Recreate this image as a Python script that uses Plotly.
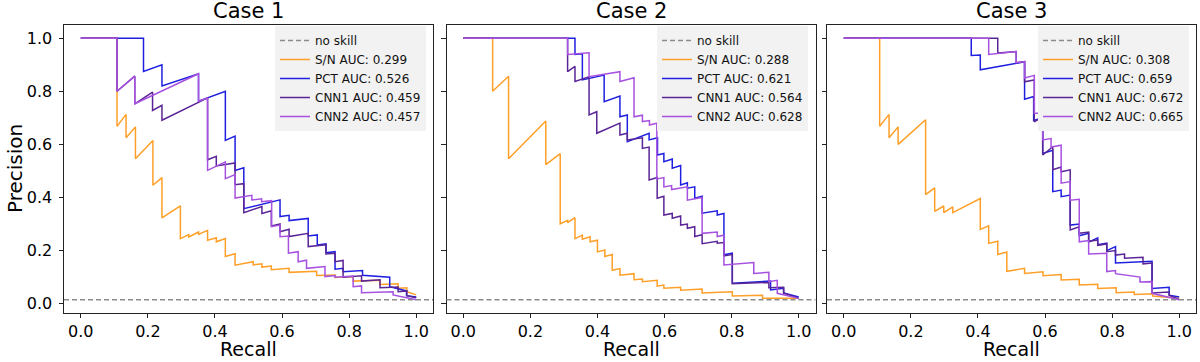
import plotly.graph_objects as go

FONT = "DejaVu Sans"

cases = ["Case 1", "Case 2", "Case 3"]
models = ["S/N", "PCT", "CNN1", "CNN2"]
colors = ["#ff9f28", "#1f1fe0", "#5a2596", "#a651e0"]
no_skill = 0.015

auc_case1 = [0.299, 0.526, 0.459, 0.457]
auc_case2 = [0.288, 0.621, 0.564, 0.628]
auc_case3 = [0.308, 0.659, 0.672, 0.665]

x_ticks = [0.0, 0.2, 0.4, 0.6, 0.8, 1.0]
y_ticks = [0.0, 0.2, 0.4, 0.6, 0.8, 1.0]

# each curve: recall at every step, precision before the drop (top) and after it (bottom)
# ---- Case 1
c1_sn_recall = [0, 0.108, 0.135, 0.163, 0.215, 0.242, 0.297, 0.322, 0.351, 0.378, 0.404, 0.431, 0.460, 0.514, 0.540, 0.568, 0.621, 0.703, 0.758, 0.812, 0.892, 0.946, 0.972, 1.0]
c1_sn_top = [1, 1, 0.713, 0.666, 0.615, 0.475, 0.368, 0.260, 0.270, 0.276, 0.248, 0.245, 0.188, 0.158, 0.150, 0.142, 0.133, 0.122, 0.108, 0.102, 0.088, 0.075, 0.060, 0.033]
c1_sn_bottom = [1, 0.668, 0.625, 0.546, 0.446, 0.323, 0.245, 0.251, 0.261, 0.239, 0.233, 0.178, 0.145, 0.146, 0.138, 0.128, 0.118, 0.106, 0.099, 0.085, 0.072, 0.058, 0.045, 0.033]

c1_pct_recall = [0, 0.187, 0.242, 0.351, 0.378, 0.431, 0.460, 0.486, 0.594, 0.621, 0.678, 0.705, 0.731, 0.758, 0.782, 0.840, 0.921, 0.971, 1.0]
c1_pct_top = [1, 1, 0.900, 0.866, 0.775, 0.800, 0.631, 0.512, 0.391, 0.333, 0.321, 0.259, 0.225, 0.196, 0.133, 0.125, 0.100, 0.048, 0.025]
c1_pct_bottom = [1, 0.875, 0.820, 0.763, 0.775, 0.615, 0.502, 0.358, 0.328, 0.313, 0.255, 0.221, 0.192, 0.130, 0.120, 0.107, 0.064, 0.030, 0.025]

c1_cnn1_recall = [0, 0.108, 0.161, 0.214, 0.242, 0.378, 0.404, 0.460, 0.486, 0.540, 0.568, 0.594, 0.621, 0.678, 0.731, 0.758, 0.782, 0.837, 0.892, 0.946, 0.972, 1.0]
c1_cnn1_top = [1, 1, 0.857, 0.797, 0.747, 0.775, 0.555, 0.530, 0.452, 0.366, 0.350, 0.300, 0.280, 0.265, 0.222, 0.190, 0.163, 0.105, 0.090, 0.063, 0.048, 0.022]
c1_cnn1_bottom = [1, 0.800, 0.753, 0.728, 0.691, 0.542, 0.519, 0.448, 0.343, 0.340, 0.293, 0.271, 0.253, 0.215, 0.187, 0.158, 0.100, 0.085, 0.060, 0.045, 0.030, 0.022]

c1_cnn2_recall = [0, 0.108, 0.161, 0.351, 0.378, 0.431, 0.460, 0.510, 0.539, 0.569, 0.594, 0.619, 0.648, 0.673, 0.728, 0.758, 0.812, 0.837, 0.931, 1.0]
c1_cnn2_top = [1, 1, 0.857, 0.866, 0.775, 0.534, 0.486, 0.408, 0.395, 0.388, 0.296, 0.255, 0.196, 0.164, 0.140, 0.106, 0.104, 0.067, 0.045, 0.015]
c1_cnn2_bottom = [1, 0.800, 0.753, 0.763, 0.502, 0.471, 0.398, 0.391, 0.384, 0.290, 0.252, 0.190, 0.158, 0.133, 0.102, 0.100, 0.064, 0.041, 0.033, 0.015]

# ---- Case 2
c2_sn_recall = [0, 0.0875, 0.135, 0.246, 0.289, 0.311, 0.333, 0.355, 0.378, 0.400, 0.422, 0.444, 0.467, 0.509, 0.534, 0.578, 0.598, 0.648, 0.712, 0.802, 0.892, 1.0]
c2_sn_top = [1, 1, 0.857, 0.688, 0.565, 0.314, 0.324, 0.258, 0.252, 0.239, 0.202, 0.185, 0.132, 0.113, 0.093, 0.088, 0.070, 0.062, 0.055, 0.045, 0.032, 0.020]
c2_sn_bottom = [1, 0.800, 0.546, 0.524, 0.301, 0.305, 0.245, 0.243, 0.233, 0.195, 0.178, 0.126, 0.107, 0.090, 0.083, 0.066, 0.058, 0.051, 0.040, 0.029, 0.020, 0.020]

c2_pct_recall = [0, 0.333, 0.355, 0.420, 0.467, 0.489, 0.554, 0.579, 0.598, 0.623, 0.648, 0.668, 0.690, 0.712, 0.757, 0.777, 0.802, 0.916, 0.955, 1.0]
c2_pct_top = [1, 1, 0.941, 0.861, 0.782, 0.711, 0.642, 0.625, 0.566, 0.545, 0.520, 0.455, 0.440, 0.405, 0.350, 0.340, 0.190, 0.085, 0.058, 0.025]
c2_pct_bottom = [1, 0.939, 0.843, 0.761, 0.704, 0.610, 0.617, 0.560, 0.535, 0.510, 0.447, 0.435, 0.397, 0.341, 0.334, 0.184, 0.077, 0.052, 0.040, 0.025]

c2_cnn1_recall = [0, 0.311, 0.333, 0.375, 0.398, 0.467, 0.489, 0.534, 0.554, 0.578, 0.598, 0.623, 0.648, 0.668, 0.690, 0.712, 0.757, 0.777, 0.802, 0.911, 0.955, 1.0]
c2_cnn1_top = [1, 1, 0.894, 0.855, 0.723, 0.680, 0.642, 0.625, 0.590, 0.475, 0.405, 0.340, 0.330, 0.300, 0.290, 0.260, 0.235, 0.230, 0.185, 0.080, 0.062, 0.020]
c2_cnn1_bottom = [1, 0.874, 0.837, 0.711, 0.642, 0.635, 0.617, 0.585, 0.466, 0.397, 0.334, 0.322, 0.296, 0.284, 0.253, 0.226, 0.228, 0.180, 0.075, 0.060, 0.040, 0.020]

c2_cnn2_recall = [0, 0.311, 0.375, 0.467, 0.509, 0.534, 0.555, 0.577, 0.598, 0.621, 0.668, 0.712, 0.757, 0.777, 0.866, 0.911, 0.936, 1.0]
c2_cnn2_top = [1, 1, 0.945, 0.874, 0.851, 0.710, 0.690, 0.680, 0.475, 0.445, 0.440, 0.400, 0.270, 0.258, 0.155, 0.118, 0.088, 0.020]
c2_cnn2_bottom = [1, 0.939, 0.855, 0.837, 0.704, 0.686, 0.673, 0.470, 0.440, 0.430, 0.390, 0.265, 0.253, 0.146, 0.114, 0.083, 0.039, 0.020]

# ---- Case 3
c3_sn_recall = [0, 0.107, 0.135, 0.162, 0.244, 0.271, 0.298, 0.325, 0.407, 0.432, 0.459, 0.486, 0.539, 0.594, 0.648, 0.702, 0.757, 0.812, 0.866, 0.921, 1.0]
c3_sn_top = [1, 1, 0.713, 0.666, 0.693, 0.436, 0.368, 0.365, 0.396, 0.293, 0.235, 0.195, 0.133, 0.120, 0.110, 0.092, 0.073, 0.060, 0.044, 0.037, 0.020]
c3_sn_bottom = [1, 0.668, 0.625, 0.600, 0.411, 0.348, 0.343, 0.343, 0.280, 0.227, 0.185, 0.122, 0.114, 0.105, 0.089, 0.070, 0.057, 0.041, 0.035, 0.029, 0.020]

c3_pct_recall = [0, 0.380, 0.407, 0.539, 0.566, 0.593, 0.623, 0.648, 0.675, 0.702, 0.730, 0.757, 0.784, 0.810, 0.919, 0.970, 1.0]
c3_pct_top = [1, 1, 0.937, 0.911, 0.780, 0.700, 0.578, 0.428, 0.409, 0.300, 0.265, 0.248, 0.228, 0.215, 0.160, 0.062, 0.025]
c3_pct_bottom = [1, 0.935, 0.881, 0.770, 0.690, 0.566, 0.422, 0.403, 0.296, 0.256, 0.232, 0.222, 0.200, 0.153, 0.057, 0.032, 0.025]

c3_cnn1_recall = [0, 0.459, 0.514, 0.539, 0.568, 0.593, 0.623, 0.648, 0.675, 0.702, 0.730, 0.757, 0.784, 0.810, 0.837, 0.892, 0.919, 0.970, 1.0]
c3_cnn1_top = [1, 1, 0.950, 0.912, 0.843, 0.705, 0.591, 0.515, 0.504, 0.290, 0.270, 0.240, 0.225, 0.200, 0.187, 0.175, 0.153, 0.044, 0.015]
c3_cnn1_bottom = [1, 0.944, 0.908, 0.836, 0.685, 0.560, 0.505, 0.497, 0.278, 0.265, 0.235, 0.220, 0.196, 0.183, 0.171, 0.150, 0.040, 0.032, 0.015]

c3_cnn2_recall = [0, 0.432, 0.514, 0.539, 0.568, 0.593, 0.618, 0.648, 0.675, 0.702, 0.730, 0.784, 0.810, 0.883, 0.919, 1.0]
c3_cnn2_top = [1, 1, 0.950, 0.912, 0.860, 0.717, 0.622, 0.597, 0.460, 0.393, 0.238, 0.190, 0.125, 0.100, 0.083, 0.015]
c3_cnn2_bottom = [1, 0.939, 0.908, 0.850, 0.717, 0.617, 0.590, 0.454, 0.390, 0.233, 0.187, 0.121, 0.113, 0.082, 0.039, 0.015]

curves = [
    [(c1_sn_recall, c1_sn_top, c1_sn_bottom), (c1_pct_recall, c1_pct_top, c1_pct_bottom),
     (c1_cnn1_recall, c1_cnn1_top, c1_cnn1_bottom), (c1_cnn2_recall, c1_cnn2_top, c1_cnn2_bottom)],
    [(c2_sn_recall, c2_sn_top, c2_sn_bottom), (c2_pct_recall, c2_pct_top, c2_pct_bottom),
     (c2_cnn1_recall, c2_cnn1_top, c2_cnn1_bottom), (c2_cnn2_recall, c2_cnn2_top, c2_cnn2_bottom)],
    [(c3_sn_recall, c3_sn_top, c3_sn_bottom), (c3_pct_recall, c3_pct_top, c3_pct_bottom),
     (c3_cnn1_recall, c3_cnn1_top, c3_cnn1_bottom), (c3_cnn2_recall, c3_cnn2_top, c3_cnn2_bottom)],
]
aucs = [auc_case1, auc_case2, auc_case3]


def step_path(recall, top, bottom):
    xs, ys = [], []
    for r, t, b in zip(recall, top, bottom):
        xs += [r, r]
        ys += [t, b]
    return xs, ys


# panel placement (pixels in the 1200x362 canvas)
W, H = 1200, 362
panel_px = [(64, 433), (446.5, 815.5), (827, 1196)]
top_px, bottom_px = 25.2, 312.7
legend_px = [275, 657, 1038]

fig = go.Figure()

for i in range(3):
    xa = "x" if i == 0 else "x%d" % (i + 1)
    ya = "y" if i == 0 else "y%d" % (i + 1)
    lg = "legend" if i == 0 else "legend%d" % (i + 1)
    for j, name in enumerate(models):
        xs, ys = step_path(*curves[i][j])
        fig.add_trace(go.Scatter(
            x=xs, y=ys, mode="lines", xaxis=xa, yaxis=ya,
            name="%s AUC: %.3f" % (name, aucs[i][j]),
            line=dict(color=colors[j], width=1.5),
            legend=lg,
        ))
    # no-skill reference line across the whole panel
    fig.add_shape(
        type="line", xref="%s domain" % xa, yref=ya,
        x0=0, x1=1, y0=no_skill, y1=no_skill,
        line=dict(color="#8c8c8c", width=1.6, dash="5px,3px"),
        showlegend=True, name="no skill", legend=lg, legendrank=1,
    )

axis_common = dict(
    showline=True, mirror=True, linecolor="#222", linewidth=1,
    ticks="outside", ticklen=4.5, tickwidth=1, tickcolor="#222",
    showgrid=False, zeroline=False,
    tickfont=dict(size=16, family=FONT, color="black"),
)

layout = dict(
    width=W, height=H,
    margin=dict(l=0, r=0, t=0, b=0),
    paper_bgcolor="white", plot_bgcolor="white",
    font=dict(family=FONT, color="black"),
)
annotations = []
for i in range(3):
    sfx = "" if i == 0 else str(i + 1)
    x0, x1 = panel_px[i]
    layout["xaxis" + sfx] = dict(
        axis_common, domain=[x0 / W, x1 / W], range=[-0.05, 1.05],
        tickvals=x_ticks, tickformat=".1f", anchor="y" + sfx, automargin=False,
    )
    layout["yaxis" + sfx] = dict(
        axis_common, domain=[1 - bottom_px / H, 1 - top_px / H], range=[-0.034, 1.049],
        tickvals=y_ticks, tickformat=".1f", anchor="x" + sfx, automargin=False,
        showticklabels=(i == 0), ticklabelstandoff=3,
    )
    layout["legend" if i == 0 else "legend%d" % (i + 1)] = dict(
        x=legend_px[i] / W, y=1 - 26 / H, xanchor="left", yanchor="top",
        bgcolor="#f2f2f2", borderwidth=0,
        font=dict(size=12, family=FONT, color="#111"),
        tracegroupgap=0,
    )
    cx = (x0 + x1) / 2 / W
    annotations.append(dict(text=cases[i], x=cx, y=1 - 11 / H, xref="paper", yref="paper",
                            showarrow=False, xanchor="center", yanchor="middle",
                            font=dict(size=21, family=FONT, color="black")))
    annotations.append(dict(text="Recall", x=cx, y=0, xref="paper", yref="paper",
                            showarrow=False, xanchor="center", yanchor="bottom",
                            font=dict(size=19, family=FONT, color="black")))

annotations.append(dict(text="Precision", x=15 / W, y=1 - 169 / H, xref="paper", yref="paper",
                        showarrow=False, xanchor="center", yanchor="middle", textangle=-90,
                        font=dict(size=20, family=FONT, color="black")))
layout["annotations"] = annotations

fig.update_layout(**layout)

# the page body has a default 8px margin; drop it so the figure sits at the window corner
fig.write_html("out.html", config={"displayModeBar": False},
               post_script="document.body.style.margin='0';")
